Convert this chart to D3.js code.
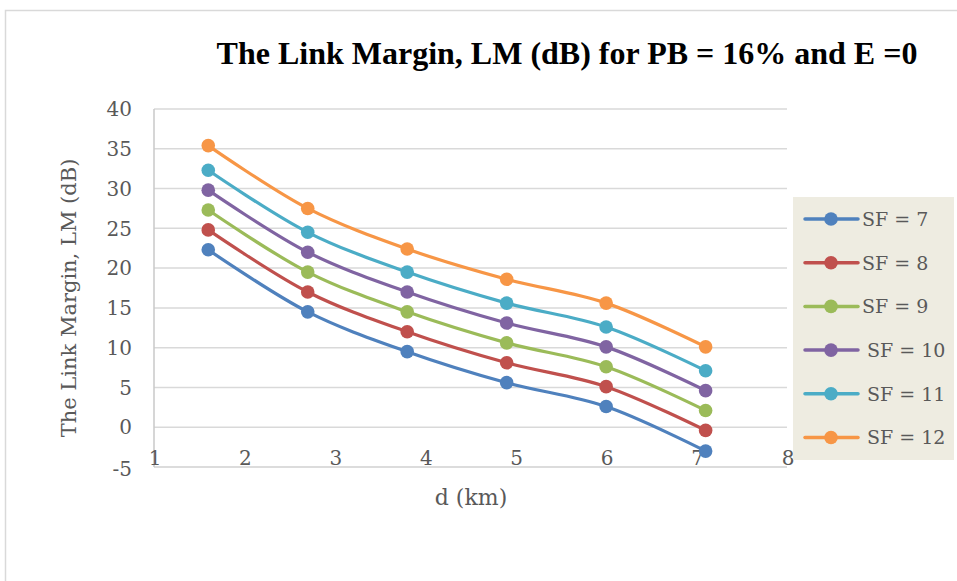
<!DOCTYPE html>
<html>
<head>
<meta charset="utf-8">
<script src="https://cdn.jsdelivr.net/npm/d3@7"></script>
<style>
  html, body { margin: 0; padding: 0; background: #fff; }
  svg { display: block; }
  text { font-family: "DejaVu Serif", "Liberation Serif", serif; }
  text.chart-title { font-family: "Liberation Serif", serif; }
</style>
</head>
<body>
<svg id="chart" width="957" height="581"></svg>
<script>
// Distance (km) at which the link margin was evaluated
const distances = [1.6, 2.7, 3.8, 4.9, 6.0, 7.1];

// Link margin (dB) for each spreading factor
const sf7  = [22.3, 14.5,  9.5,  5.6,  2.6, -3.0];
const sf8  = [24.8, 17.0, 12.0,  8.1,  5.1, -0.4];
const sf9  = [27.3, 19.5, 14.5, 10.6,  7.6,  2.1];
const sf10 = [29.8, 22.0, 17.0, 13.1, 10.1,  4.6];
const sf11 = [32.3, 24.5, 19.5, 15.6, 12.6,  7.1];
const sf12 = [35.4, 27.5, 22.4, 18.6, 15.6, 10.1];

const seriesNames = ["SF = 7", "SF = 8", "SF = 9", "SF = 10", "SF = 11", "SF = 12"];
const seriesColors = ["#4F81BD", "#C0504D", "#9BBB59", "#8064A2", "#4BACC6", "#F79646"];
const seriesValues = [sf7, sf8, sf9, sf10, sf11, sf12];

const xTicks = [1, 2, 3, 4, 5, 6, 7, 8];
const yTicks = [-5, 0, 5, 10, 15, 20, 25, 30, 35, 40];

const titleText = "The Link Margin, LM (dB) for PB = 16% and E =0";
const xTitle = "d (km)";
const yTitle = "The Link Margin, LM (dB)";

const svg = d3.select("#chart");

// Outer chart frame
svg.append("rect")
  .attr("x", 5.5).attr("y", 10.5)
  .attr("width", 1000).attr("height", 700)
  .attr("fill", "#fff")
  .attr("stroke", "#D9D9D9").attr("stroke-width", 1.5);

const x = d3.scaleLinear().domain([1, 8]).range([154, 787]);
const y = d3.scaleLinear().domain([-5, 40]).range([467, 109]);

// Horizontal gridlines
svg.append("g")
  .selectAll("line")
  .data(yTicks.filter(v => v > -5))
  .join("line")
  .attr("x1", x(1)).attr("x2", x(8))
  .attr("y1", d => y(d)).attr("y2", d => y(d))
  .attr("stroke", "#D9D9D9").attr("stroke-width", 1.5);

// Axis lines
svg.append("line")
  .attr("x1", x(1)).attr("x2", x(8))
  .attr("y1", y(-5)).attr("y2", y(-5))
  .attr("stroke", "#D0D0D0").attr("stroke-width", 1.5);
svg.append("line")
  .attr("x1", x(1)).attr("x2", x(1))
  .attr("y1", y(40)).attr("y2", y(-5))
  .attr("stroke", "#C8C8C8").attr("stroke-width", 1.5);

// Y tick labels
svg.append("g")
  .selectAll("text")
  .data(yTicks)
  .join("text")
  .attr("x", 132)
  .attr("y", d => y(d) + (d === -5 ? 2 : 0))
  .attr("dy", "0.36em")
  .attr("text-anchor", "end")
  .attr("font-size", 20)
  .attr("fill", "#595959")
  .text(d => d);

// X tick labels, sitting just above the bottom axis line
svg.append("g")
  .selectAll("text")
  .data(xTicks)
  .join("text")
  .attr("x", d => x(d) + 1)
  .attr("y", y(-5) - 2)
  .attr("text-anchor", "middle")
  .attr("font-size", 20)
  .attr("fill", "#595959")
  .text(d => d);

// Axis titles
svg.append("text")
  .attr("x", 471).attr("y", 505)
  .attr("text-anchor", "middle")
  .attr("font-size", 22)
  .attr("fill", "#595959")
  .text(xTitle);

svg.append("text")
  .attr("transform", "translate(76,298) rotate(-90)")
  .attr("text-anchor", "middle")
  .attr("font-size", 21)
  .attr("fill", "#595959")
  .text(yTitle);

// Chart title
svg.append("text")
  .attr("class", "chart-title")
  .attr("x", 567).attr("y", 64)
  .attr("text-anchor", "middle")
  .attr("font-size", 32)
  .attr("font-weight", "bold")
  .attr("fill", "#000")
  .text(titleText);

// Smoothed series lines with markers
const line = d3.line()
  .x((d, i) => x(distances[i]))
  .y(d => y(d))
  .curve(d3.curveCatmullRom.alpha(0.5));

const series = svg.append("g")
  .selectAll("g")
  .data(seriesValues)
  .join("g");

series.append("path")
  .attr("d", d => line(d))
  .attr("fill", "none")
  .attr("stroke", (d, i) => seriesColors[i])
  .attr("stroke-width", 3.2)
  .attr("stroke-linecap", "round");

series.each(function(vals, i) {
  d3.select(this).selectAll("circle")
    .data(vals)
    .join("circle")
    .attr("cx", (d, j) => x(distances[j]))
    .attr("cy", d => y(d))
    .attr("r", 6.8)
    .attr("fill", seriesColors[i]);
});

// Legend
const legend = svg.append("g");
legend.append("rect")
  .attr("x", 793).attr("y", 197)
  .attr("width", 161).attr("height", 263)
  .attr("fill", "#EEECE1");

const items = legend.selectAll("g.item")
  .data(seriesNames)
  .join("g")
  .attr("class", "item")
  .attr("transform", (d, i) => `translate(0,${219 + i * 43.7})`);

items.append("line")
  .attr("x1", 805).attr("x2", 858)
  .attr("y1", 0).attr("y2", 0)
  .attr("stroke", (d, i) => seriesColors[i])
  .attr("stroke-width", 3.5)
  .attr("stroke-linecap", "round");

items.append("circle")
  .attr("cx", 831).attr("cy", 0).attr("r", 6.8)
  .attr("fill", (d, i) => seriesColors[i]);

items.append("text")
  .attr("x", (d, i) => i < 3 ? 862 : 867)
  .attr("y", 0)
  .attr("dy", "0.36em")
  .attr("font-size", 19)
  .attr("fill", "#595959")
  .text(d => d);
</script>
</body>
</html>
